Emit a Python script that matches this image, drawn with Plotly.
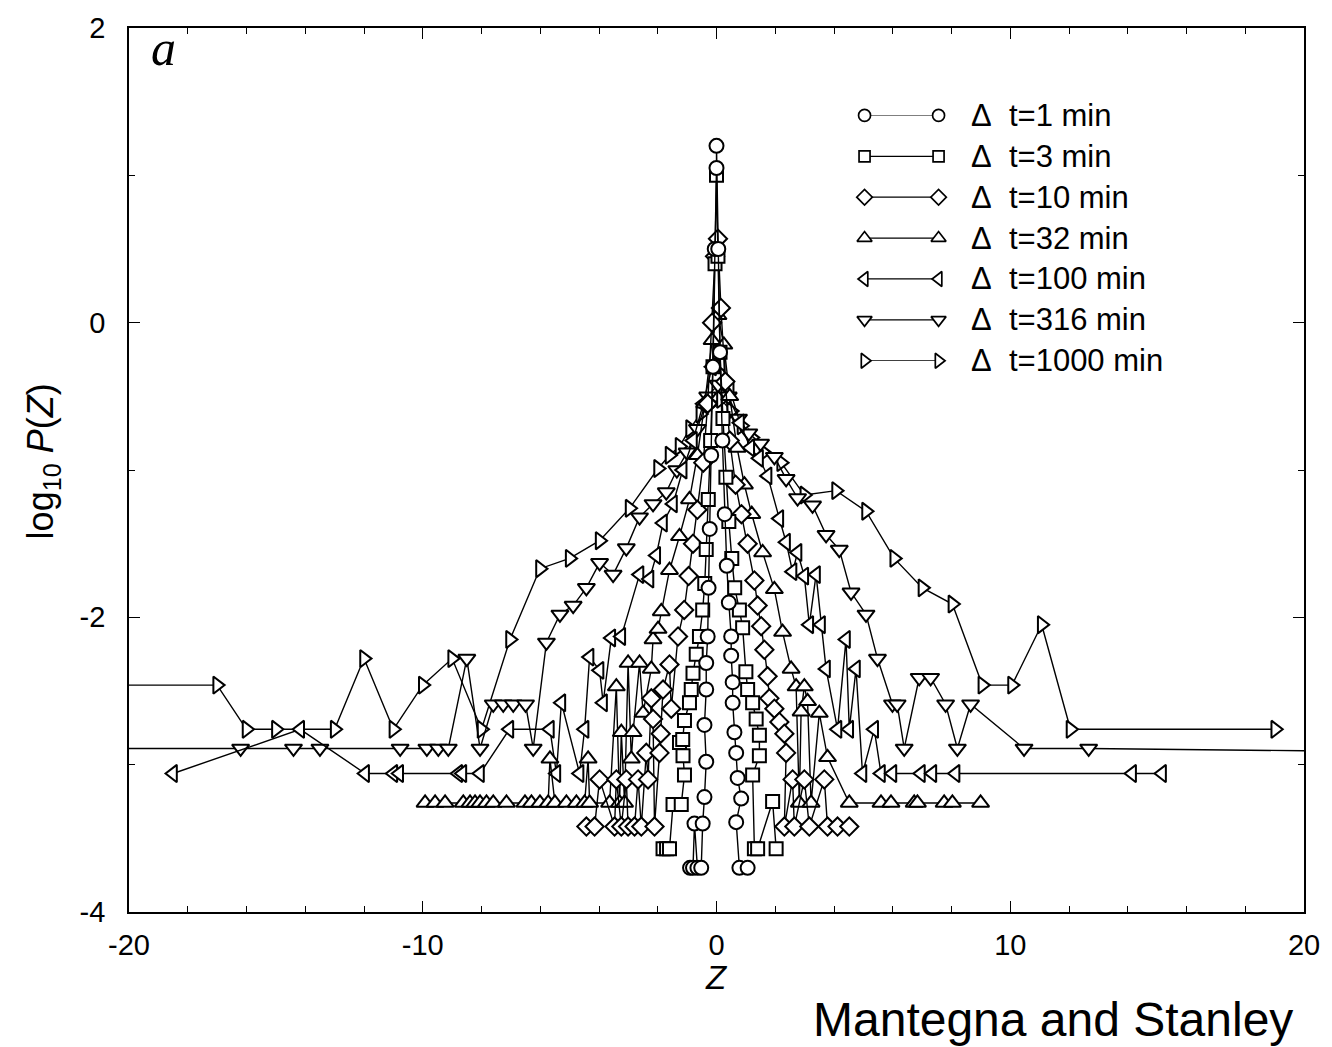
import plotly.graph_objects as go

# ---------------- data ----------------
labels = ["1 min", "3 min", "10 min", "32 min", "100 min", "316 min", "1000 min"]
symbols = ["circle", "square", "diamond", "triangle-up", "triangle-left", "triangle-down", "triangle-right"]
msizes = [14, 13, 14, 15, 15, 15, 15]

x_1000 = [-22, -17.0, -16.0, -15.0, -13.0, -12.0, -11.0, -10.0, -9.0, -8.0, -7.03, -6.01, -5.0, -3.98, -2.96,
          -1.99, -1.6, -1.26, -0.9, -0.55, -0.2, 0.15, 0.5, 0.85, 1.2, 1.6, 2.2, 2.99, 4.07, 5.09, 6.05, 7.01,
          8.03, 9.05, 10.06, 11.07, 12.05, 19.02]
y_1000 = [-2.46, -2.46, -2.76, -2.76, -2.76, -2.28, -2.76, -2.46, -2.28, -2.76, -2.15, -1.67, -1.60, -1.48, -1.26,
          -0.99, -0.9, -0.84, -0.72, -0.62, -0.55, -0.52, -0.6, -0.7, -0.78, -0.88, -0.95, -1.17, -1.14, -1.28, -1.60,
          -1.80, -1.91, -2.46, -2.46, -2.05, -2.76, -2.76]

x_316 = [-22, -16.2, -14.4, -13.5, -10.77, -9.86, -9.47, -9.13, -8.5, -8.05, -7.6, -7.26, -6.92, -6.5, -6.24,
         -5.79, -5.33, -4.88, -4.43, -3.98, -3.52, -3.07, -2.62, -2.16, -1.71, -1.35, -1.0, -0.65, -0.3, 0.05,
         0.4, 0.75, 1.1, 1.5, 1.97, 2.37, 2.76, 3.27, 3.73, 4.18, 4.58, 5.09, 5.48, 5.99, 6.15, 6.39, 6.9,
         7.29, 7.8, 8.2, 8.65, 10.47, 12.67, 22]
y_316 = [-2.89, -2.89, -2.89, -2.89, -2.89, -2.89, -2.89, -2.89, -2.28, -2.89, -2.59, -2.59, -2.59, -2.59, -2.89,
         -2.17, -1.98, -1.92, -1.80, -1.63, -1.71, -1.53, -1.32, -1.23, -1.15, -1.0, -0.88, -0.72, -0.5, -0.42,
         -0.5, -0.65, -0.75, -0.82, -0.91, -1.06, -1.19, -1.24, -1.44, -1.54, -1.83, -1.98, -2.28, -2.59, -2.59,
         -2.89, -2.41, -2.41, -2.59, -2.89, -2.59, -2.89, -2.89, -2.91]

x_100 = [-18.5, -14.17, -11.96, -11.0, -10.8, -8.79, -8.65, -8.05, -7.05, -5.67, -5.45, -5.28, -4.66, -4.49,
         -4.32, -3.98, -3.86, -3.58, -3.24, -2.62, -2.28, -2.05, -1.82, -1.48, -1.15, -0.8, -0.45, -0.15, 0.15,
         0.45, 0.8, 1.15, 1.45, 1.74, 2.14, 2.37, 2.59, 2.76, 2.99, 3.16, 3.39, 3.56, 3.73, 4.12, 4.41, 4.52,
         4.75, 4.97, 5.37, 5.6, 5.99, 6.96, 7.35, 8.14, 14.15, 15.17]
y_100 = [-3.06, -2.76, -3.06, -3.06, -3.06, -3.06, -3.06, -3.06, -2.76, -2.76, -3.06, -2.58, -3.06, -2.76,
         -2.27, -2.36, -2.58, -2.14, -2.13, -1.71, -1.74, -1.58, -1.36, -1.23, -1.0, -0.8, -0.55, -0.3, -0.27,
         -0.45, -0.68, -0.85, -0.92, -1.04, -1.33, -1.49, -1.69, -1.56, -1.72, -2.05, -1.71, -2.05, -2.35, -2.76,
         -2.15, -2.76, -2.35, -3.06, -2.76, -3.06, -3.06, -3.06, -3.06, -3.06, -3.06, -3.06]

x_32 = [-9.92, -9.58, -9.24, -8.62, -8.39, -8.22, -8.05, -7.83, -7.6, -7.15, -6.52, -6.3, -6.01, -5.73, -5.67,
        -5.5, -5.11, -4.77, -4.49, -4.37, -4.32, -3.64, -3.41, -3.3, -3.24, -3.13, -3.01, -2.9, -2.84, -2.62,
        -2.5, -2.22, -2.16, -1.99, -1.88, -1.6, -1.26, -0.92, -0.65, -0.4, -0.15, 0.05, 0.25, 0.45, 0.7, 0.95,
        1.2, 1.57, 1.97, 2.25, 2.54, 2.71, 2.82, 2.88, 2.99, 3.1, 3.22, 3.5, 3.78, 4.52, 5.6, 5.94, 6.73,
        6.84, 7.75, 8.03, 8.99]
y_32 = [-3.26, -3.26, -3.26, -3.26, -3.26, -3.26, -3.26, -3.26, -3.26, -3.26, -3.26, -3.26, -3.26, -3.26, -2.96,
        -3.26, -3.26, -3.26, -3.26, -2.96, -3.26, -3.26, -2.47, -3.26, -2.78, -3.26, -2.31, -2.96, -2.78, -2.31,
        -2.65, -2.35, -2.15, -2.08, -1.96, -1.68, -1.45, -1.2, -0.9, -0.55, -0.12, 0.05, -0.15, -0.5, -0.85, -1.1,
        -1.3, -1.56, -1.81, -2.10, -2.35, -2.47, -3.26, -2.64, -2.47, -2.57, -3.26, -2.65, -2.95, -3.26, -3.26,
        -3.26, -3.26, -3.26, -3.26, -3.26, -3.26]

x_10 = [-4.43, -4.15, -3.98, -3.47, -3.41, -3.24, -3.07, -3.01, -2.79, -2.67, -2.56, -2.39, -2.33, -2.22,
        -2.16, -2.11, -1.94, -1.9, -1.82, -1.6, -1.54, -1.31, -1.1, -0.95, -0.8, -0.65, -0.45, -0.3, -0.15,
        -0.05, 0.05, 0.15, 0.3, 0.45, 0.65, 0.85, 1.06, 1.29, 1.4, 1.52, 1.63, 1.74, 1.8, 1.97, 2.14, 2.31,
        2.37, 2.31, 2.59, 2.65, 2.99, 3.16, 3.67, 3.78, 4.12, 4.52]
y_10 = [-3.42, -3.42, -3.10, -3.42, -3.10, -3.42, -3.10, -3.42, -3.42, -3.10, -3.42, -2.92, -3.10, -2.55,
        -2.69, -3.42, -2.92, -2.79, -2.49, -2.32, -2.62, -2.13, -1.95, -1.72, -1.5, -1.27, -0.95, -0.55, 0.0,
        0.45, 0.57, 0.1, -0.4, -0.8, -1.1, -1.3, -1.5, -1.75, -1.92, -2.06, -2.22, -2.4, -2.55, -2.62, -2.71,
        -2.79, -2.92, -3.42, -3.10, -3.42, -3.10, -3.42, -3.10, -3.42, -3.42, -3.42]

x_3 = [-1.82, -1.7, -1.6, -1.48, -1.2, -1.09, -1.14, -1.26, -1.15, -1.09, -0.92, -0.86, -0.8, -0.69, -0.58,
       -0.47, -0.4, -0.35, -0.28, -0.2, -0.12, -0.05, 0.0, 0.05, 0.12, 0.22, 0.32, 0.42, 0.52, 0.62, 0.78,
       0.89, 1.0, 1.06, 1.23, 1.35, 1.46, 1.46, 1.23, 1.29, 1.4, 1.91, 2.03]
y_3 = [-3.57, -3.57, -3.57, -3.27, -3.27, -3.07, -2.94, -2.85, -2.83, -2.70, -2.58, -2.49, -2.38, -2.25, -2.13,
       -1.95, -1.77, -1.54, -1.2, -0.8, -0.3, 0.4, 1.0, 0.45, -0.2, -0.65, -1.05, -1.35, -1.6, -1.8, -1.95,
       -2.07, -2.37, -2.49, -2.58, -2.69, -2.80, -2.94, -3.07, -3.57, -3.57, -3.25, -3.57]

x_1 = [-0.9, -0.8, -0.75, -0.65, -0.52, -0.47, -0.41, -0.35, -0.41, -0.35, -0.35, -0.3, -0.27, -0.23, -0.18,
       -0.12, -0.06, 0.0, 0.0, 0.06, 0.12, 0.2, 0.28, 0.35, 0.42, 0.5, 0.5, 0.55, 0.55, 0.61, 0.67, 0.72,
       0.84, 0.67, 0.78, 1.06]
y_1 = [-3.70, -3.70, -3.40, -3.70, -3.70, -3.40, -3.22, -2.98, -2.73, -2.49, -2.31, -2.13, -1.8, -1.4, -0.9,
       -0.3, 0.5, 1.05, 1.2, 0.5, -0.2, -0.8, -1.3, -1.65, -1.9, -2.13, -2.26, -2.44, -2.58, -2.78, -2.92, -3.09,
       -3.23, -3.39, -3.70, -3.70]

xs = [x_1, x_3, x_10, x_32, x_100, x_316, x_1000]
ys = [y_1, y_3, y_10, y_32, y_100, y_316, y_1000]

x_ticks = [-20, -10, 0, 10, 20]
x_ticktext = ["-20", "-10", "0", "10", "20"]
x_minor = [-18, -16, -14, -12, -8, -6, -4, -2, 2, 4, 6, 8, 12, 14, 16, 18]
y_ticks = [-4, -2, 0, 2]
y_ticktext = ["-4", "-2", "0", "2"]
y_minor = [-3, -1, 1]

# ---------------- figure ----------------
fig = go.Figure()
FONT = "Liberation Sans, Arial, sans-serif"

# draw widest first so the narrow central curves sit on top
for i in reversed(range(len(labels))):
    fig.add_trace(go.Scatter(
        x=xs[i], y=ys[i], mode="lines+markers", showlegend=False,
        line=dict(color="black", width=1.4),
        marker=dict(symbol=symbols[i], size=msizes[i], color="white",
                    line=dict(color="black", width=2)),
        xaxis="x", yaxis="y"))

# legend drawn as small line samples with markers at both ends
for i, lab in enumerate(labels):
    fig.add_trace(go.Scatter(
        x=[0, 1], y=[i, i], mode="lines+markers", showlegend=False, cliponaxis=False,
        line=dict(color="black", width=1.3),
        marker=dict(symbol=symbols[i], size=msizes[i] - 2, color="white",
                    line=dict(color="black", width=1.7)),
        xaxis="x2", yaxis="y2"))
    fig.add_annotation(x=0.7145, y=i, xref="paper", yref="y2", text="Δ\u00a0 t=" + lab,
                       showarrow=False, xanchor="left", yanchor="middle",
                       font=dict(family=FONT, size=31, color="black"))

axis_common = dict(showline=True, linecolor="black", linewidth=1.8, mirror="ticks",
                   ticks="inside", tickcolor="black", tickwidth=1.3, showgrid=False, zeroline=False,
                   tickfont=dict(family=FONT, size=29, color="black"))

fig.update_layout(
    width=1332, height=1047,
    margin=dict(l=129, r=26, t=22, b=135),
    paper_bgcolor="white", plot_bgcolor="rgba(0,0,0,0)",
    xaxis=dict(range=[-20, 20], tickmode="array", tickvals=x_ticks, ticktext=x_ticktext,
               ticklen=11, ticklabelstandoff=6,
               minor=dict(tickmode="array", tickvals=x_minor, ticks="inside", ticklen=6,
                          tickcolor="black", tickwidth=1.2),
               **axis_common),
    yaxis=dict(range=[-4, 2], tickmode="array", tickvals=y_ticks, ticktext=y_ticktext,
               ticklen=11, ticklabelstandoff=16,
               minor=dict(tickmode="array", tickvals=y_minor, ticks="inside", ticklen=6,
                          tickcolor="black", tickwidth=1.2),
               **axis_common),
    xaxis2=dict(domain=[0.626, 0.689], range=[0, 1], visible=False, anchor="y2", fixedrange=True),
    yaxis2=dict(domain=[0.6236, 0.9011], range=[6, 0], visible=False, anchor="x2", fixedrange=True),
)

# axis titles and labels
fig.add_annotation(x=0.5, y=(912 - 978) / 890, xref="paper", yref="paper", text="<i>Z</i>",
                   showarrow=False, xanchor="center", yanchor="middle",
                   font=dict(family=FONT, size=33, color="black"))
fig.add_annotation(x=-0.073, y=0.51, xref="paper", yref="paper",
                   text="log<sub>10</sub> <i>P</i>(<i>Z</i>)", showarrow=False, textangle=-90,
                   xanchor="center", yanchor="middle", font=dict(family=FONT, size=36, color="black"))
fig.add_annotation(x=0.029, y=0.977, xref="paper", yref="paper", text="<i>a</i>", showarrow=False,
                   xanchor="center", yanchor="middle",
                   font=dict(family="Liberation Serif, Times New Roman, serif", size=50, color="black"))
fig.add_annotation(x=(1055 - 129) / 1177, y=(912 - 1020) / 890, xref="paper", yref="paper",
                   text="Mantegna and Stanley", showarrow=False, xanchor="center", yanchor="middle",
                   font=dict(family=FONT, size=48, color="black"))

fig.write_html("out.html")
